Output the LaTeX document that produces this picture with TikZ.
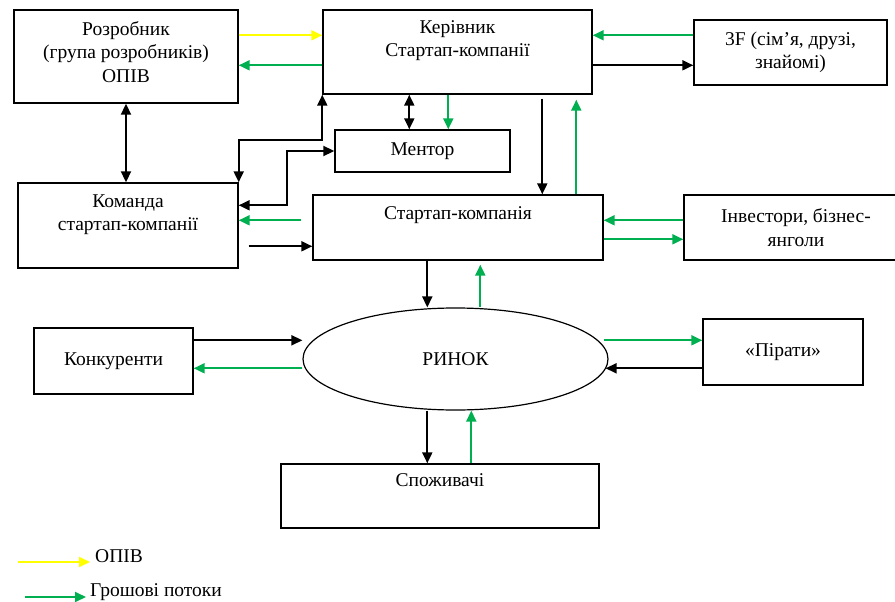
\documentclass[tikz,border=0pt]{standalone}
\usepackage{fontspec}
\setmainfont{Liberation Serif}
\newfontfamily\diagfont{Liberation Serif}
\usetikzlibrary{arrows.meta,positioning,shapes.geometric}
\definecolor{moneygreen}{RGB}{0,176,80}
\definecolor{opivyellow}{RGB}{255,255,0}

\begin{document}
\begin{tikzpicture}[
  x=1pt, y=-1pt,
  >={Triangle[length=11pt,width=10pt]},
  font=\diagfont\fontsize{19.5pt}{23.5pt}\selectfont,
  box/.style      = {draw, line width=1.4pt, inner sep=0pt, align=center},
  txt/.style      = {inner sep=0pt, align=center},
  flowarr/.style  = {->, line width=1.9pt},
  duplex/.style   = {<->, line width=1.9pt},
  money/.style    = {->, line width=1.9pt, moneygreen},
  opiv/.style     = {->, line width=1.9pt, opivyellow}
]

% ---- frame ----
\useasboundingbox (0,0) rectangle (895,602);

% ---- nodes (boxes) ----
\node[box, minimum width=224pt, minimum height=93pt] (dev) at (126,56.5) {};
\node[txt, below=12pt of dev.north] (devText) {Розробник\\(група розробників)\\ОПІВ};

\node[box, minimum width=269pt, minimum height=84pt] (head) at (457.5,52) {};
\node[txt, below=11pt of head.north] (headText) {Керівник\\Стартап-компанії};

\node[box, minimum width=193pt, minimum height=65pt] (fam) at (790.5,52.5)
  {3F (сім’я, друзі,\\знайомі)};

\node[box, minimum width=175pt, minimum height=42pt] (mentor) at (422.5,151) {Ментор};

\node[box, minimum width=220pt, minimum height=85pt] (team) at (128,225.5) {};
\node[txt, below=12pt of team.north] (teamText) {Команда\\стартап-компанії};

\node[box, minimum width=290pt, minimum height=65pt] (startup) at (458,227.5) {};
\node[txt, below=12pt of startup.north] (startupText) {Стартап-компанія};

\node[box, minimum width=224pt, minimum height=65pt] (inv) at (796,227.5)
  {Інвестори, бізнес-\\янголи};

\node[box, minimum width=159pt, minimum height=66pt] (konk) at (113.5,361) {Конкуренти};

\node[box, ellipse, line width=1.2pt, minimum width=305pt, minimum height=102pt] (rynok) at (455.5,359) {РИНОК};

\node[box, minimum width=160pt, minimum height=66pt] (pir) at (783,352) {«Пірати»};

\node[box, minimum width=318pt, minimum height=64pt] (spozh) at (440,496) {};
\node[txt, below=10pt of spozh.north] (spozhText) {Споживачі};

% ---- arrows (top row) ----
\draw[opiv]    ([yshift=-26pt]dev.north east) -- ([yshift=-26pt]head.north west);
\draw[money]   ([yshift=-56pt]head.north west) -- ([yshift=-56pt]dev.north east);
\draw[money]   ([yshift=-16pt]fam.north west) -- ([yshift=-26pt]head.north east);
\draw[flowarr] ([yshift=-56pt]head.north east) -- ([yshift=-46pt]fam.north west);

% ---- arrows (team, mentor) ----
\draw[duplex]  (dev.south) -- (dev.south |- team.north);
\draw[duplex]  ([xshift=87pt]head.south west) -- ([xshift=75pt]mentor.north west);
\draw[money]   ([xshift=126pt]head.south west) -- ([xshift=114pt]mentor.north west);
\draw[duplex]  (head.south west) -- ++(0,45) -| (team.north east);
\draw[duplex]  ([yshift=-23pt]team.north east) -- ++(48,0) |- (mentor.west);
\draw[money]   ([xshift=-11pt,yshift=-26pt]startup.north west) -- ([yshift=-38pt]team.north east);
\draw[flowarr] ([xshift=10pt,yshift=-64pt]team.north east) -- ([yshift=-52pt]startup.north west);

% ---- arrows (startup) ----
\draw[flowarr] ([xshift=220pt,yshift=-4pt]head.south west) -- ([xshift=230pt]startup.north west);
\draw[money]   ([xshift=264pt]startup.north west) -- ([xshift=254pt,yshift=-5pt]head.south west);
\draw[money]   ([yshift=-26pt]inv.north west) -- ([yshift=-26pt]startup.north east);
\draw[money]   ([yshift=-45pt]startup.north east) -- ([yshift=-45pt]inv.north west);

% ---- arrows (market) ----
\draw[flowarr] ([xshift=115pt]startup.south west) -- ([xshift=115pt]startup.south west |- rynok.north);
\draw[money]   ([xshift=168pt]startup.south west |- rynok.north) -- ([xshift=168pt,yshift=-4pt]startup.south west);
\draw[flowarr] ([yshift=-13pt]konk.north east) -- ([yshift=-13pt]konk.north east -| rynok.west);
\draw[money]   ([yshift=-41pt]konk.north east -| rynok.west) -- ([yshift=-41pt]konk.north east);
\draw[money]   ([xshift=-5pt,yshift=-22pt]pir.north west -| rynok.east) -- ([yshift=-22pt]pir.north west);
\draw[flowarr] ([yshift=-50pt]pir.north west) -- ([xshift=-3pt,yshift=-50pt]pir.north west -| rynok.east);
\draw[flowarr] ([xshift=147pt]spozh.north west |- rynok.south) -- ([xshift=147pt]spozh.north west);
\draw[money]   ([xshift=191pt]spozh.north west) -- ([xshift=191pt]spozh.north west |- rynok.south);

% ---- legend ----
\node[txt, anchor=west] (legOpiv) at (95,556.5) {ОПІВ};
\node[txt, anchor=west] (legMoney) at (90,592.5) {Грошові потоки};
\coordinate (legOpivStart) at (18,562);
\coordinate (legMoneyStart) at (25,597);
\draw[opiv]  (legOpivStart) -- ([xshift=-5pt]legOpivStart -| legOpiv.west);
\draw[money] (legMoneyStart) -- ([xshift=-4pt]legMoneyStart -| legMoney.west);

\end{tikzpicture}
\end{document}
